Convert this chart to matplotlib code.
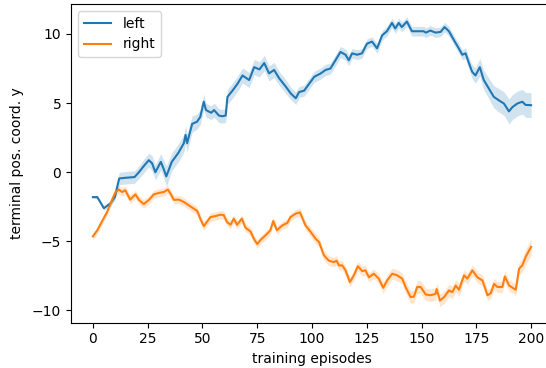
import matplotlib
matplotlib.use("Agg")
import matplotlib.pyplot as plt
import numpy as np

# ---- data ----
left_ep = [0, 2, 5, 8, 10, 12, 15, 19, 21, 23.5, 25.5, 27, 28.5, 31, 32.5, 33.5, 36, 39, 41.5, 42.3,
           43, 45.3, 47.5, 49, 50.6, 51.6, 54, 55.3, 57.5, 59, 60.6, 61.4, 63.7, 66, 68.3, 71.3, 73.6, 76, 78.2, 80.4,
           82.7, 85, 88, 90.3, 92.6, 94.1, 96.4, 98.7, 101, 104, 106.2, 108.4, 110.7, 113, 115.3, 116.8, 118.3, 120.6, 122.8, 125.1,
           127.4, 129.7, 132, 134.2, 136.5, 138, 139.6, 141, 143.3, 145.6, 147.9, 150.9, 152, 154, 156.4, 158.7, 160.5, 162.5, 164.8, 167,
           168.6, 170.1, 171.6, 173.1, 174.6, 176.6, 178.4, 180.7, 183, 185.3, 187.6, 189.9, 191.4, 193.7, 196, 197.5, 200]
left_mean = [-1.8, -1.8, -2.6, -2.25, -1.8, -0.45, -0.4, -0.35, 0.0, 0.5, 0.87, 0.65, 0.0, 0.75, 0.15, -0.3, 0.75, 1.4, 2.1, 2.7,
             2.1, 3.5, 3.65, 4.0, 5.1, 4.5, 4.3, 4.5, 4.1, 4.05, 4.1, 5.45, 5.9, 6.4, 7.0, 6.67, 7.6, 7.44, 7.9, 7.15,
             7.4, 6.8, 6.2, 5.7, 5.35, 5.8, 5.9, 6.4, 6.9, 7.15, 7.4, 7.5, 8.1, 8.7, 8.5, 8.1, 8.6, 8.5, 8.6, 9.3,
             9.45, 8.96, 9.9, 10.2, 10.8, 10.4, 10.8, 10.5, 10.9, 10.2, 10.2, 10.2, 10.1, 10.25, 10.1, 10.15, 10.5, 10.2, 9.55, 8.96,
             8.5, 8.6, 7.9, 7.27, 7.0, 7.6, 6.67, 6.06, 5.45, 5.2, 4.97, 4.4, 4.7, 4.97, 5.1, 4.87, 4.85]
left_err = [0.1, 0.1, 0.15, 0.2, 0.25, 0.45, 0.45, 0.45, 0.45, 0.5, 0.5, 0.55, 0.55, 0.6, 0.65, 0.75, 0.65, 0.65, 0.65, 0.65,
            0.65, 0.6, 0.55, 0.55, 0.55, 0.5, 0.5, 0.5, 0.5, 0.5, 0.5, 0.55, 0.55, 0.55, 0.55, 0.55, 0.55, 0.55, 0.55, 0.55,
            0.55, 0.5, 0.5, 0.45, 0.45, 0.4, 0.4, 0.4, 0.4, 0.4, 0.4, 0.4, 0.4, 0.4, 0.4, 0.4, 0.35, 0.35, 0.35, 0.35,
            0.35, 0.35, 0.35, 0.35, 0.35, 0.35, 0.35, 0.35, 0.35, 0.35, 0.35, 0.35, 0.35, 0.35, 0.35, 0.35, 0.35, 0.35, 0.35, 0.35,
            0.35, 0.4, 0.45, 0.5, 0.55, 0.65, 0.7, 0.75, 0.8, 0.85, 0.85, 0.9, 0.9, 0.9, 0.9, 0.9, 0.9]

right_ep = [0, 2, 4, 6.5, 9, 10.3, 11.8, 13.3, 14.8, 17, 19.4, 21, 23.2, 25.6, 27.8, 30, 32.4, 34.2, 35.4, 37,
            39.2, 41.5, 43.8, 46, 47.6, 49, 50.6, 52, 53.7, 56, 58.2, 59.7, 61.2, 62.8, 64.3, 65.8, 68, 69.6, 72, 73.4,
            75, 76.5, 78.8, 81, 82.3, 84, 86.4, 88.7, 90.2, 92.5, 94.5, 97, 99.3, 101.6, 103.2, 105.4, 107.7, 110, 111.2, 112.3,
            113.8, 115.3, 117.3, 119.1, 120.9, 122.9, 124.4, 126, 128.2, 130.5, 132.5, 134.3, 136.6, 138.9, 141.2, 142.7, 145, 146.5, 148, 149.6,
            151.9, 154.1, 156.4, 156.9, 158.4, 160.3, 162.5, 164.1, 165.6, 167.1, 169.4, 170.9, 173.2, 175.5, 177.8, 180.1, 181.6, 183.1, 184.6, 186.9,
            188, 190, 193, 194.5, 196, 197.5, 200]
right_mean = [-4.64, -4.2, -3.6, -2.87, -1.9, -1.43, -1.25, -1.43, -1.3, -1.98, -1.6, -2.0, -2.3, -2.0, -1.6, -1.5, -1.43, -1.25, -1.55, -2.0,
              -1.98, -2.15, -2.4, -2.63, -2.8, -3.36, -3.9, -3.6, -3.24, -3.17, -3.07, -3.1, -3.6, -3.8, -3.36, -3.8, -3.36, -4.0, -4.3, -4.8,
              -5.2, -4.9, -4.56, -4.2, -3.53, -4.2, -3.85, -3.67, -3.24, -3.0, -2.9, -3.84, -4.3, -4.8, -5.05, -6.0, -6.4, -6.5, -6.4, -6.74,
              -6.74, -7.1, -7.95, -7.46, -6.8, -7.15, -7.1, -7.6, -7.34, -7.7, -8.36, -7.83, -7.34, -7.46, -7.7, -8.3, -9.03, -9.0, -8.3, -8.3,
              -8.84, -8.9, -8.8, -8.45, -9.28, -9.03, -8.55, -8.67, -8.2, -8.5, -7.46, -7.7, -7.1, -7.6, -7.83, -8.9, -8.75, -8.07, -8.3, -8.3,
              -7.54, -8.2, -8.5, -6.98, -6.74, -6.13, -5.4]
right_err = [0.25, 0.25, 0.25, 0.25, 0.25, 0.3, 0.3, 0.3, 0.3, 0.3, 0.3, 0.3, 0.3, 0.3, 0.3, 0.3, 0.3, 0.3, 0.3, 0.3,
             0.3, 0.3, 0.3, 0.3, 0.3, 0.3, 0.3, 0.3, 0.3, 0.3, 0.3, 0.3, 0.3, 0.3, 0.3, 0.3, 0.3, 0.3, 0.3, 0.3,
             0.3, 0.3, 0.3, 0.3, 0.3, 0.3, 0.3, 0.3, 0.3, 0.3, 0.3, 0.3, 0.35, 0.35, 0.35, 0.35, 0.35, 0.35, 0.35, 0.35,
             0.35, 0.35, 0.35, 0.35, 0.35, 0.35, 0.35, 0.35, 0.35, 0.35, 0.4, 0.4, 0.4, 0.4, 0.4, 0.45, 0.45, 0.45, 0.45, 0.45,
             0.45, 0.45, 0.45, 0.45, 0.45, 0.45, 0.45, 0.45, 0.45, 0.45, 0.4, 0.4, 0.4, 0.4, 0.4, 0.4, 0.4, 0.4, 0.4, 0.4,
             0.4, 0.4, 0.4, 0.45, 0.5, 0.55, 0.6]

series = [("left", left_ep, left_mean, left_err, "tab:blue"),
          ("right", right_ep, right_mean, right_err, "tab:orange")]

fig = plt.figure(figsize=(5.46, 3.68), dpi=100)
ax = fig.add_axes([71 / 546, 45.5 / 368, 482 / 546, 318.5 / 368])

for name, ep, mean, err, color in series:
    ep = np.asarray(ep, float)
    mean = np.asarray(mean, float)
    err = np.asarray(err, float)
    ax.fill_between(ep, mean - err, mean + err, color=color, alpha=0.2, linewidth=0)
    ax.plot(ep, mean, color=color, linewidth=1.5, label=name)

ax.set_xlim(-10, 210)
ax.set_ylim(-10.87, 12.17)
ax.set_xticks([0, 25, 50, 75, 100, 125, 150, 175, 200])
ax.set_yticks([-10, -5, 0, 5, 10])
ax.set_xlabel("training episodes")
ax.set_ylabel("terminal pos. coord. y", labelpad=6)
ax.legend(loc="upper left")

fig.savefig("out.png", dpi=100)
